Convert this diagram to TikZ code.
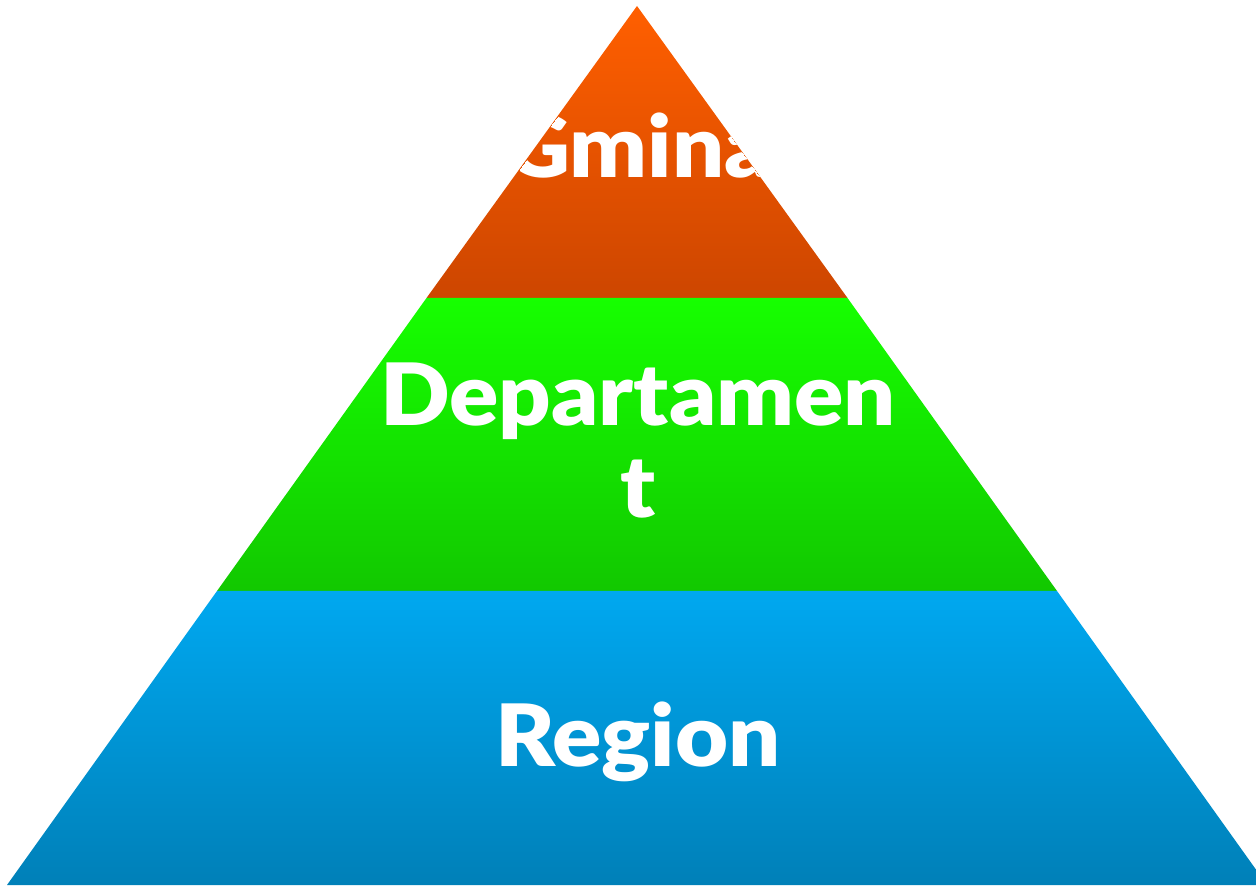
\documentclass[tikz,border=0pt]{standalone}
\usepackage{fontspec}
\usepackage{graphicx}
\newfontfamily\latoblack{Lato-Black.ttf}
\newcommand{\wide}[1]{\scalebox{1.065}[1]{#1}}
\begin{document}
\begin{tikzpicture}[x=1pt,y=1pt,
  lbl/.style={text=white,font=\latoblack\fontsize{86}{92}\selectfont,inner sep=0pt,anchor=base}]
\useasboundingbox (0,0) rectangle (1256,887);
\coordinate (apex) at (637,881);
\coordinate (bl) at (7,2);
\coordinate (br) at (1267,2);
\begin{scope}
\clip (0,0) rectangle (1256,887);
\shade[top color={rgb,255:red,255;green,95;blue,0},bottom color={rgb,255:red,205;green,70;blue,0}]
  (apex) -- (847.5,589) -- (426.5,589) -- cycle;
\shade[top color={rgb,255:red,22;green,255;blue,0},bottom color={rgb,255:red,18;green,200;blue,0}]
  (426.5,589) -- (847.5,589) -- (1057,296) -- (217,296) -- cycle;
\shade[top color={rgb,255:red,0;green,168;blue,240},bottom color={rgb,255:red,0;green,128;blue,184}]
  (217,296) -- (1057,296) -- (br) -- (bl) -- cycle;
\clip (apex) -- (br) -- (bl) -- cycle;
\node[lbl] (gmina) at (638,709) {\wide{Gmina}};
\node[lbl] (dep) at (638,461) {\wide{Departamen}};
\node[lbl] (dept) at (638,369) {\wide{t}};
\node[lbl] (reg) at (638,121) {\wide{Region}};
\end{scope}
\end{tikzpicture}
\end{document}
